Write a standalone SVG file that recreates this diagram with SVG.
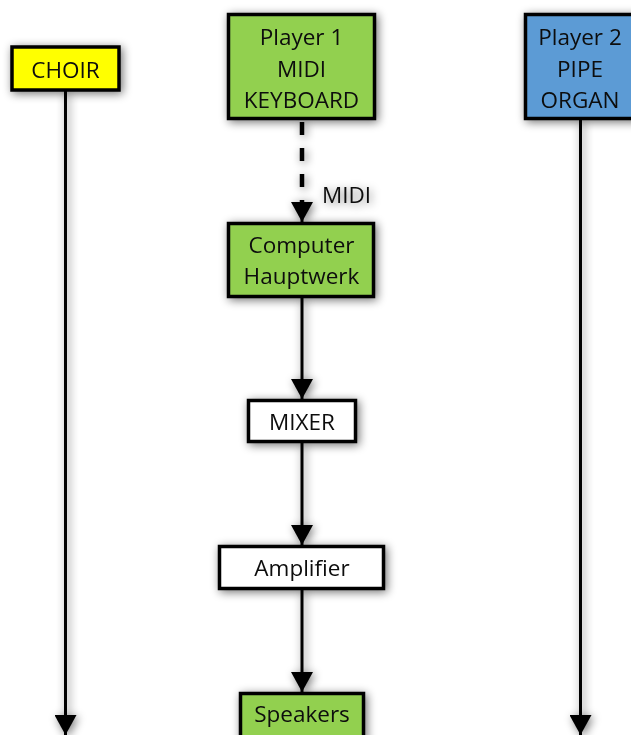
<svg xmlns="http://www.w3.org/2000/svg" width="631" height="735" viewBox="0 0 631 735">
<defs>
<filter id="sh" filterUnits="userSpaceOnUse" x="-20" y="-20" width="671" height="775">
<feGaussianBlur in="SourceAlpha" stdDeviation="5"/>
<feOffset dx="2" dy="2" result="b"/>
<feComponentTransfer in="b" result="s"><feFuncA type="linear" slope="0.55"/></feComponentTransfer>
<feMerge><feMergeNode in="s"/><feMergeNode in="SourceGraphic"/></feMerge>
</filter>
<marker id="ah" markerUnits="userSpaceOnUse" markerWidth="22" markerHeight="22" viewBox="0 0 20 22" refX="20" refY="11" orient="auto">
<path d="M0,0 L20,11 L0,22 Z" fill="#000"/>
</marker>
<style>
.box{stroke:#000;stroke-width:3.5}
.g{fill:#92d050}
.y{fill:#ffff00}
.b{fill:#5b9bd5}
.w{fill:#fff}
text{font-family:"Open Sans","Liberation Sans",sans-serif;font-size:22.5px;fill:#0d0d0d;text-anchor:middle}
.ln{stroke:#000;stroke-width:3;fill:none}
.dash{stroke:#000;stroke-width:4.5;stroke-dasharray:13 13;fill:none}
</style>
</defs>
<rect width="631" height="735" fill="#fff"/>
<g id="connectors" filter="url(#sh)">
<line class="ln" x1="65.5" y1="91" x2="65.5" y2="735" marker-end="url(#ah)"/>
<line class="ln" x1="580.5" y1="120" x2="580.5" y2="735" marker-end="url(#ah)"/>
<line class="dash" x1="302" y1="122" x2="302" y2="204"/>
<line class="ln" x1="302" y1="200" x2="302" y2="222" marker-end="url(#ah)"/>
<line class="ln" x1="302" y1="298" x2="302" y2="399" marker-end="url(#ah)"/>
<line class="ln" x1="302" y1="443" x2="302" y2="545" marker-end="url(#ah)"/>
<line class="ln" x1="302" y1="590" x2="302" y2="692" marker-end="url(#ah)"/>
<text x="322" y="203" style="text-anchor:start">MIDI</text>
</g>
<g id="choir" filter="url(#sh)">
<rect class="box y" x="12" y="47" width="107" height="43"/>
<text x="65.5" y="78">CHOIR</text>
</g>
<g id="player1" filter="url(#sh)">
<rect class="box g" x="228.5" y="14.5" width="146" height="104"/>
<text x="301.5" y="45">Player 1</text>
<text x="301.5" y="77">MIDI</text>
<text x="301.5" y="108">KEYBOARD</text>
</g>
<g id="player2" filter="url(#sh)">
<rect class="box b" x="525.5" y="14.5" width="115" height="104"/>
<text x="580" y="45">Player 2</text>
<text x="580" y="77">PIPE</text>
<text x="580" y="108">ORGAN</text>
</g>
<g id="computer" filter="url(#sh)">
<rect class="box g" x="228.5" y="223.5" width="145" height="73"/>
<text x="301.5" y="253">Computer</text>
<text x="301.5" y="284">Hauptwerk</text>
</g>
<g id="mixer" filter="url(#sh)">
<rect class="box w" x="248.5" y="400.5" width="107" height="41"/>
<text x="302" y="430">MIXER</text>
</g>
<g id="amplifier" filter="url(#sh)">
<rect class="box w" x="219.5" y="546.5" width="164" height="42"/>
<text x="302" y="576">Amplifier</text>
</g>
<g id="speakers" filter="url(#sh)">
<rect class="box g" x="240.5" y="693.5" width="123" height="50"/>
<text x="302" y="722">Speakers</text>
</g>
</svg>
